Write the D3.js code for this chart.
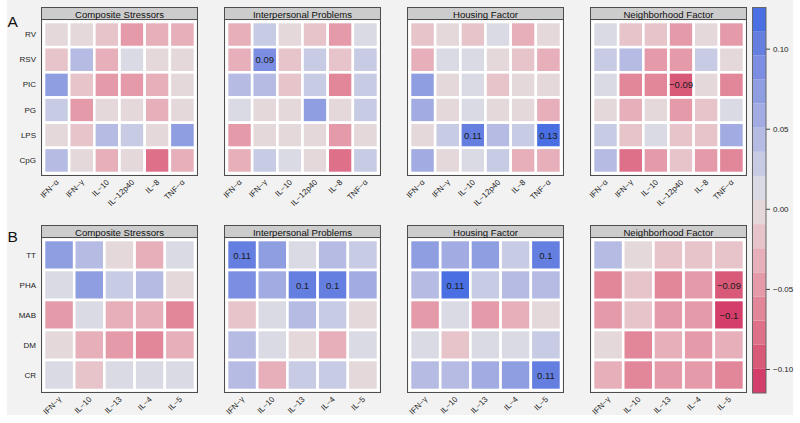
<!DOCTYPE html>
<html>
<head>
<meta charset="utf-8">
<script src="https://cdn.jsdelivr.net/npm/d3@7"></script>
<style>
  html, body { margin: 0; padding: 0; background: #ffffff; }
  svg { display: block; font-family: "Liberation Sans", Arial, Helvetica, sans-serif; }
</style>
</head>
<body>
<svg id="chart" width="800" height="423"></svg>
<script>
// ---------------- DATA ----------------
const factors = ["Composite Stressors", "Interpersonal Problems", "Housing Factor", "Neighborhood Factor"];

const rowsA = ["RV", "RSV", "PIC", "PG", "LPS", "CpG"];
const colsA = ["IFN\u2212\u03b1", "IFN\u2212\u03b3", "IL\u221210", "IL\u221212p40", "IL\u22128", "TNF\u2212\u03b1"];
const rowsB = ["TT", "PHA", "MAB", "DM", "CR"];
const colsB = ["IFN\u2212\u03b3", "IL\u221210", "IL\u221213", "IL\u22124", "IL\u22125"];

// Panel A values (rows x cols)
const aComposite = [
  [-0.004, -0.006, -0.018, -0.048, -0.034, -0.030],
  [-0.020,  0.041, -0.028,  0.010, -0.005, -0.007],
  [ 0.072, -0.019, -0.045, -0.050, -0.036, -0.004],
  [ 0.028, -0.052, -0.006, -0.008, -0.033, -0.005],
  [-0.003, -0.016,  0.040,  0.030, -0.002,  0.074],
  [ 0.043, -0.004, -0.031, -0.006, -0.078, -0.030]
];
const aInterpersonal = [
  [-0.030,  0.025, -0.005, -0.015, -0.050,  0.008],
  [-0.032,  0.088, -0.018,  0.024, -0.017,  0.026],
  [ 0.040,  0.036, -0.020,  0.022, -0.065,  0.025],
  [ 0.009, -0.004, -0.006,  0.070, -0.005,  0.022],
  [-0.046, -0.005, -0.004, -0.006, -0.049, -0.003],
  [-0.030,  0.026,  0.010, -0.004, -0.080,  0.024]
];
const aHousing = [
  [-0.018, -0.006, -0.016,  0.008, -0.034, -0.005],
  [-0.035,  0.010,  0.009, -0.004, -0.020, -0.036],
  [ 0.070, -0.005,  0.010, -0.022, -0.006, -0.007],
  [ 0.055, -0.004,  0.008, -0.006, -0.005, -0.034],
  [-0.003,  0.022,  0.107,  0.044,  0.023,  0.126],
  [ 0.052, -0.005,  0.009,  0.025, -0.038, -0.036]
];
const aNeighborhood = [
  [ 0.010, -0.018, -0.020, -0.050, -0.006, -0.048],
  [ 0.024,  0.038, -0.040, -0.045,  0.022, -0.004],
  [ 0.008, -0.064, -0.060, -0.092, -0.005, -0.055],
  [-0.006, -0.028, -0.008, -0.050, -0.024,  0.010],
  [ 0.022, -0.016,  0.012, -0.018, -0.020,  0.060],
  [ 0.036, -0.080, -0.048, -0.016, -0.050, -0.062]
];

// Panel B values (rows x cols)
const bComposite = [
  [ 0.068,  0.040, -0.004, -0.030,  0.009],
  [ 0.010,  0.072,  0.024,  0.036, -0.004],
  [-0.045,  0.008, -0.034, -0.032, -0.056],
  [-0.006, -0.036, -0.045, -0.058, -0.030],
  [ 0.010, -0.016,  0.011,  0.009,  0.012]
];
const bInterpersonal = [
  [ 0.108,  0.068,  0.008,  0.038,  0.035],
  [ 0.085,  0.055,  0.100,  0.099,  0.058],
  [-0.020,  0.010,  0.036,  0.024, -0.004],
  [ 0.036,  0.009, -0.004, -0.030,  0.010],
  [ 0.050, -0.032,  0.024,  0.022, -0.005]
];
const bHousing = [
  [ 0.066,  0.062,  0.074,  0.026,  0.100],
  [ 0.038,  0.112,  0.026,  0.040,  0.036],
  [-0.048,  0.008, -0.050, -0.030, -0.005],
  [ 0.010, -0.018,  0.008,  0.020,  0.034],
  [ 0.050,  0.040,  0.058,  0.070,  0.108]
];
const bNeighborhood = [
  [ 0.036, -0.006, -0.018, -0.020, -0.022],
  [-0.055, -0.016, -0.065, -0.048, -0.090],
  [-0.050, -0.016, -0.052, -0.048, -0.102],
  [-0.006, -0.062, -0.035, -0.045, -0.038],
  [-0.035, -0.060, -0.050, -0.046, -0.058]
];

// significant cells that carry a printed value: [factorIndex, row, col]
const labelledA = [[1, 1, 1], [2, 4, 2], [2, 4, 5], [3, 2, 3]];
const labelledB = [[1, 0, 0], [1, 1, 2], [1, 1, 3], [2, 0, 4], [2, 1, 1], [2, 4, 4], [3, 1, 4], [3, 2, 4]];

const legendRange = [-0.115, 0.126];
const legendTicks = [0.10, 0.05, 0.00, -0.05, -0.10];
const nBands = 16;

// ---------------- COLORS (diverging HCL, Blue-Red 2) ----------------
function polarLuvToHex(L, C, H) {
  const h = H * Math.PI / 180;
  const U = C * Math.cos(h), V = C * Math.sin(h);
  const Xn = 95.047, Yn = 100, Zn = 108.883;
  const Y = Yn * (L > 8 ? Math.pow((L + 16) / 116, 3) : L / 903.3);
  const den = Xn + 15 * Yn + 3 * Zn;
  const un = 4 * Xn / den, vn = 9 * Yn / den;
  const up = U / (13 * L) + un, vp = V / (13 * L) + vn;
  const X = 9 * Y * up / (4 * vp);
  const Z = -X / 3 - 5 * Y + 3 * Y / vp;
  const x = X / 100, y = Y / 100, z = Z / 100;
  let r = 3.240479 * x - 1.537150 * y - 0.498535 * z;
  let g = -0.969256 * x + 1.875992 * y + 0.041556 * z;
  let b = 0.055648 * x - 0.204043 * y + 1.057311 * z;
  const gam = v => v <= 0.0031308 ? 12.92 * v : 1.055 * Math.pow(v, 1 / 2.4) - 0.055;
  const cl = v => Math.max(0, Math.min(255, Math.round(gam(v) * 255)));
  return d3.rgb(cl(r), cl(g), cl(b)).formatHex();
}
const palette = d3.range(nBands).map(i => {
  const t = -1 + 2 * i / (nBands - 1); // -1 (red, low) ... +1 (blue, high)
  const a = Math.abs(t);
  return polarLuvToHex(90 - 40 * a, 100 * a, t > 0 ? 260 : 0);
});
const breaks = d3.range(1, nBands).map(i => legendRange[0] + i * (legendRange[1] - legendRange[0]) / nBands);
const color = d3.scaleThreshold().domain(breaks).range(palette);

// ---------------- LAYOUT ----------------
const svg = d3.select("#chart");
svg.append("rect").attr("x", 0).attr("y", 0).attr("width", 800).attr("height", 423).attr("fill", "#ffffff");
svg.append("rect").attr("x", 7).attr("y", 0).attr("width", 786).attr("height", 415).attr("fill", "#f2f2f2");

const panelLefts = [41, 224, 407, 590];
const panelW = 157;
const pad = 3;

const fmtLabel = v => {
  const r = Math.round(v * 100) / 100;
  return String(r).replace("-", "\u2212");
};

function drawBlock(rows, cols, datasets, labelled, stripTop, panelTop, panelBottom, letter, letterY) {
  svg.append("text").attr("x", 7.5).attr("y", letterY)
    .attr("font-size", 15.5).attr("fill", "#111").text(letter);

  datasets.forEach((data, fi) => {
    const left = panelLefts[fi];
    const g = svg.append("g");
    const x = d3.scaleBand().domain(d3.range(cols.length)).range([left + pad, left + panelW - pad]);
    const y = d3.scaleBand().domain(d3.range(rows.length)).range([panelTop + pad, panelBottom - pad]);

    const cells = [];
    data.forEach((row, ri) => row.forEach((v, ci) => cells.push({ ri, ci, v })));

    g.selectAll("rect.cell").data(cells).enter().append("rect")
      .attr("class", "cell")
      .attr("x", d => x(d.ci)).attr("y", d => y(d.ri))
      .attr("width", x.bandwidth()).attr("height", y.bandwidth())
      .attr("fill", d => color(d.v))
      .attr("stroke", "#ffffff").attr("stroke-width", 2.6);

    // printed values
    const labs = labelled.filter(l => l[0] === fi).map(l => ({ ri: l[1], ci: l[2], v: data[l[1]][l[2]] }));
    g.selectAll("text.val").data(labs).enter().append("text")
      .attr("x", d => x(d.ci) + x.bandwidth() / 2)
      .attr("y", d => y(d.ri) + y.bandwidth() / 2)
      .attr("text-anchor", "middle").attr("dominant-baseline", "central")
      .attr("font-size", 9.5).attr("fill", "#1a1a1a")
      .text(d => fmtLabel(d.v));

    // panel box
    g.append("rect").attr("x", left + 0.5).attr("y", panelTop + 0.5)
      .attr("width", panelW - 1).attr("height", panelBottom - panelTop - 1)
      .attr("fill", "none").attr("stroke", "#4d4d4d").attr("stroke-width", 1);

    // strip
    g.append("rect").attr("x", left + 0.5).attr("y", stripTop + 0.5)
      .attr("width", panelW - 1).attr("height", panelTop - stripTop)
      .attr("fill", "#cccccc").attr("stroke", "#4d4d4d").attr("stroke-width", 1);
    g.append("text").attr("x", left + panelW / 2).attr("y", (stripTop + panelTop) / 2 + 1)
      .attr("text-anchor", "middle").attr("dominant-baseline", "central")
      .attr("font-size", 9.6).attr("fill", "#111").text(factors[fi]);

    // x axis labels (rotated)
    g.selectAll("text.xl").data(cols).enter().append("text")
      .attr("transform", (d, i) => `translate(${x(i) + x.bandwidth() / 2 + 1},${panelBottom + 5}) rotate(-45)`)
      .attr("text-anchor", "end").attr("dominant-baseline", "central")
      .attr("font-size", 8).attr("fill", "#222").text(d => d);

    // y axis labels on first panel only
    if (fi === 0) {
      g.selectAll("text.yl").data(rows).enter().append("text")
        .attr("x", left - 5).attr("y", (d, i) => y(i) + y.bandwidth() / 2)
        .attr("text-anchor", "end").attr("dominant-baseline", "central")
        .attr("font-size", 8).attr("fill", "#222").text(d => d);
    }
  });
}

drawBlock(rowsA, colsA, [aComposite, aInterpersonal, aHousing, aNeighborhood], labelledA, 7, 19, 176, "A", 27);
drawBlock(rowsB, colsB, [bComposite, bInterpersonal, bHousing, bNeighborhood], labelledB, 225, 237, 393, "B", 242);

// ---------------- LEGEND ----------------
const ly = d3.scaleLinear().domain(legendRange).range([393, 7]);
const bandEdges = [legendRange[0], ...breaks, legendRange[1]];
const leg = svg.append("g");
leg.selectAll("rect.band").data(palette).enter().append("rect")
  .attr("x", 752).attr("width", 14)
  .attr("y", (d, i) => ly(bandEdges[i + 1]))
  .attr("height", (d, i) => ly(bandEdges[i]) - ly(bandEdges[i + 1]))
  .attr("fill", d => d);
leg.append("rect").attr("x", 752.5).attr("y", 7.5).attr("width", 13.5).attr("height", 385.5)
  .attr("fill", "none").attr("stroke", "#666").attr("stroke-width", 1);
const axis = d3.axisRight(ly).tickValues(legendTicks).tickSize(4).tickPadding(3)
  .tickFormat(v => d3.format(".2f")(v).replace("-", "\u2212"));
const ag = leg.append("g").attr("transform", "translate(766,0)").call(axis);
ag.select(".domain").remove();
ag.selectAll("line").attr("stroke", "#444");
ag.selectAll("text").attr("font-size", 8).attr("fill", "#222")
  .attr("font-family", "'Liberation Sans', Arial, sans-serif");
</script>
</body>
</html>
